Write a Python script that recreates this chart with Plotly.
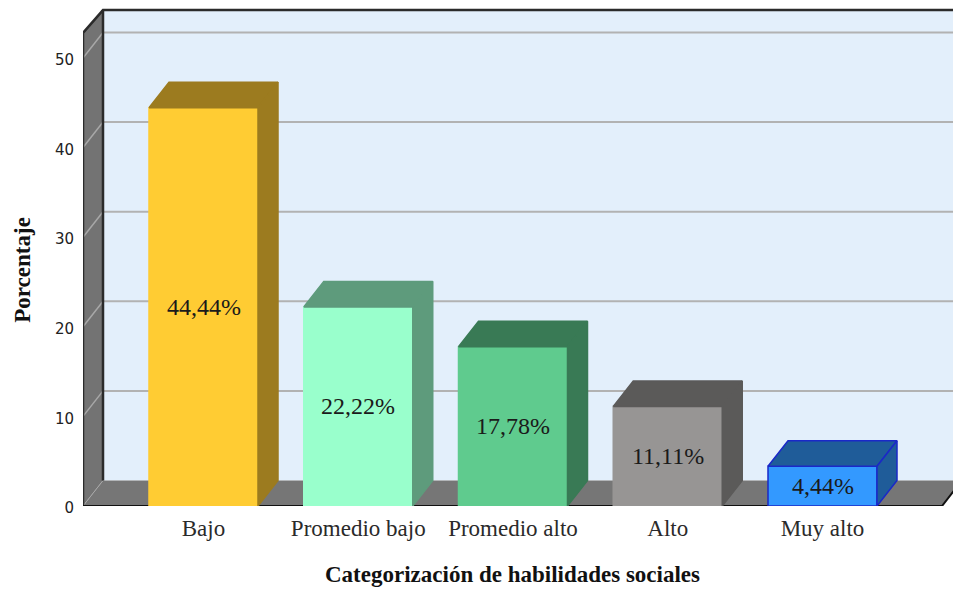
import plotly.graph_objects as go

categories = ["Bajo", "Promedio bajo", "Promedio alto", "Alto", "Muy alto"]
values = [44.44, 22.22, 17.78, 11.11, 4.44]
labels = ["44,44%", "22,22%", "17,78%", "11,11%", "4,44%"]
front_colors = ["#FFCC33", "#99FFCC", "#5FCB8E", "#979594", "#3399FF"]
side_colors = ["#9C7B1F", "#5E9B7C", "#397A55", "#5B5A59", "#1F5C99"]
edge_colors = ["#FFCC33", "#99FFCC", "#5FCB8E", "#979594", "#1A28C8"]
y_ticks = [0, 10, 20, 30, 40, 50]

FONT = "Liberation Serif"
W, H = 953, 589
LEFT, BASE = 83, 506.5
CENTER0 = 203.5
STEP, UNIT = 154.75, 8.97
x0, x1 = (LEFT - CENTER0) / STEP, (W - CENTER0) / STEP
y1 = BASE / UNIT
DX, DY = 20 / STEP, 25.5 / UNIT      # oblique depth in axis units
BAR_W = 109 / STEP
YMAX = 52.8
YBACK = 52.5 + DY
XRIGHT = (942 - CENTER0) / STEP


def poly(pts):
    return "M" + " L".join(f"{a},{b}" for a, b in pts) + " Z"


shapes = []
def add(fill=None, line=None, lw=0, pts=None):
    shapes.append(dict(type="path", path=poly(pts) if fill else "M" + " L".join(f"{a},{b}" for a, b in pts),
                       xref="x", yref="y", layer="below", fillcolor=fill,
                       line=dict(color=line or "rgba(0,0,0,0)", width=lw)))

# back wall, side wall, floor
add(pts=[(x0 + DX, DY), (x1 + 1, DY), (x1 + 1, YBACK), (x0 + DX, YBACK)], fill="#E3EFFB")
add(pts=[(x0, 0), (x0 + DX, DY), (x0 + DX, YBACK), (x0, YMAX)], fill="#737373")
add(pts=[(x0, 0), (XRIGHT, 0), (XRIGHT + DX, DY), (x0 + DX, DY)], fill="#767676")
# gridlines on back and side wall
for t in y_ticks[1:]:
    add(pts=[(x0 + DX, t + DY), (x1 + 1, t + DY)], line="#B2B2B2", lw=2)
    add(pts=[(x0, t), (x0 + DX, t + DY)], line="#A8A8A8", lw=1.5)
add(pts=[(x0, 0), (x0 + DX, DY)], line="#A8A8A8", lw=1)
# frame
dark = "#2B2B2B"
add(pts=[(x0, 0), (x0, YMAX), (x0 + DX, YBACK), (x1 + 1, YBACK)], line=dark, lw=2.5)
add(pts=[(x0 + DX, YBACK), (x0 + DX, DY)], line=dark, lw=2.5)
add(pts=[(x0, 0), (XRIGHT, 0), (XRIGHT + DX, DY)], line="#111111", lw=2)

fig = go.Figure()
xs = list(range(len(categories)))

fig.add_trace(go.Bar(
    x=xs, y=values, width=BAR_W,
    marker=dict(color=front_colors, line=dict(color=edge_colors, width=1.5)),
    hoverinfo="skip", showlegend=False,
))

for i, v in enumerate(values):
    a, b = i - BAR_W / 2, i + BAR_W / 2
    # top face and side face
    fig.add_trace(go.Scatter(
        x=[a, a + DX, b + DX, b, a], y=[v, v + DY, v + DY, v, v],
        mode="lines", fill="toself", fillcolor=side_colors[i],
        line=dict(color=edge_colors[i] if i == 4 else side_colors[i], width=1.5),
        hoverinfo="skip", showlegend=False,
    ))
    fig.add_trace(go.Scatter(
        x=[b, b + DX, b + DX, b, b], y=[0, DY, v + DY, v, 0],
        mode="lines", fill="toself", fillcolor=side_colors[i],
        line=dict(color=edge_colors[i] if i == 4 else side_colors[i], width=1.5),
        hoverinfo="skip", showlegend=False,
    ))

annotations = [
    dict(x=i, y=v / 2, xref="x", yref="y", text=labels[i], showarrow=False,
         font=dict(family=FONT, size=24, color="#1A1A1A"))
    for i, v in enumerate(values)
]
annotations.append(dict(
    x=(512 - LEFT) / (W - LEFT), y=(BASE - 575) / BASE, xref="paper", yref="paper",
    xanchor="center", yanchor="middle",
    text="<b>Categorización de habilidades sociales</b>", showarrow=False,
    font=dict(family=FONT, size=23, color="#111111"),
))
annotations.append(dict(
    x=(23 - LEFT) / (W - LEFT), y=(BASE - 270) / BASE, xref="paper", yref="paper",
    xanchor="center", yanchor="middle",
    text="<b>Porcentaje</b>", textangle=-90, showarrow=False,
    font=dict(family=FONT, size=23, color="#111111"),
))

fig.update_layout(
    width=W, height=H, autosize=False,
    margin=dict(l=LEFT, r=0, t=0, b=H - BASE),
    paper_bgcolor="white", plot_bgcolor="white",
    shapes=shapes, annotations=annotations, showlegend=False,
    xaxis=dict(
        range=[x0, x1], tickmode="array", tickvals=xs, ticktext=categories,
        showgrid=False, zeroline=False, showline=False, ticks="", ticklabelstandoff=6,
        tickfont=dict(family=FONT, size=23, color="#2A2A2A"),
    ),
    yaxis=dict(
        range=[0, y1], tickmode="array", tickvals=y_ticks,
        ticktext=[str(t) for t in y_ticks],
        showgrid=False, zeroline=False, showline=False, ticks="", ticklabelstandoff=8,
        ticklabelshift=2,
        tickfont=dict(family="DejaVu Sans", size=15, color="#222222"),
    ),
)

fig.write_html("out.html", config={"displayModeBar": False},
               post_script="document.body.style.margin='0';")
